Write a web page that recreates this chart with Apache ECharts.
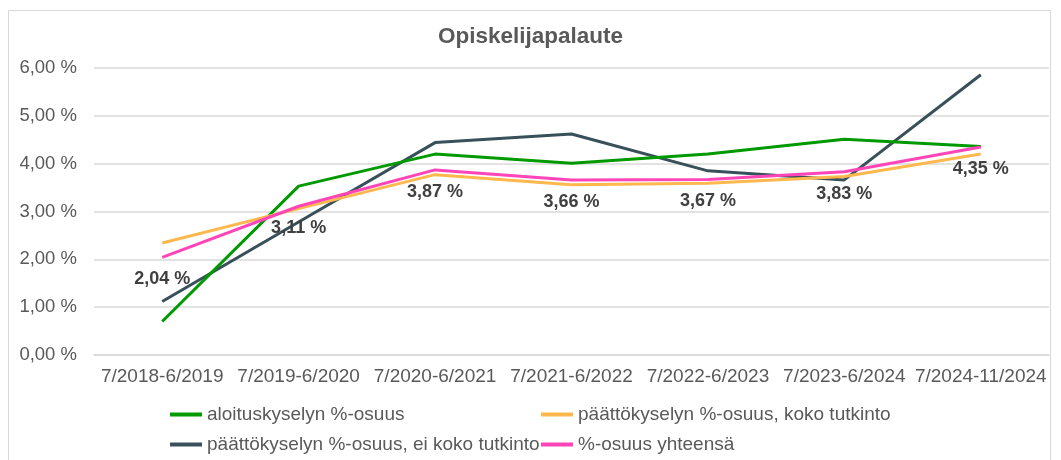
<!DOCTYPE html>
<html>
<head>
<meta charset="utf-8">
<script src="https://cdn.jsdelivr.net/npm/echarts@6/dist/echarts.min.js"></script>
<style>
	html,body{margin:0;padding:0;background:#fff;}
	#chart{width:1061px;height:460px;}
</style>
</head>
<body>
<div id="chart"></div>
<script>
var categories = ['7/2018-6/2019','7/2019-6/2020','7/2020-6/2021','7/2021-6/2022','7/2022-6/2023','7/2023-6/2024','7/2024-11/2024'];
var aloitus = [0.70, 3.53, 4.20, 4.01, 4.20, 4.51, 4.36];
var paattoKoko = [2.34, 3.06, 3.77, 3.56, 3.59, 3.73, 4.20];
var paattoEiKoko = [1.12, 2.78, 4.44, 4.62, 3.85, 3.66, 5.86];
var yhteensa = [2.04, 3.11, 3.87, 3.66, 3.67, 3.83, 4.35];
var yTicks = [0, 1, 2, 3, 4, 5, 6];

var names = ['aloituskyselyn %-osuus', 'päättökyselyn %-osuus, koko tutkinto', 'päättökyselyn %-osuus, ei koko tutkinto', '%-osuus yhteensä'];
var colors = ['#009a00', '#ffb84d', '#37505a', '#ff45b8'];
var font = '"Liberation Sans", Arial, sans-serif';

function pct(v){
	return v.toFixed(2).replace('.', ',') + ' %';
}

function lineSeries(i, data){
	return {
		name: names[i],
		type: 'line',
		data: data,
		symbol: 'circle',
		symbolSize: 0,
		showSymbol: true,
		z: i == 2 ? 1 : 2 + i,
		lineStyle: {color: colors[i], width: 3},
		itemStyle: {color: colors[i]}
	};
}

// yksi legenda per rivi/sarake, jotta sijainnit osuvat
function legendItem(i, left, top){
	return {
		data: [{name: names[i], icon: 'rect'}],
		left: left,
		top: top,
		padding: 0,
		itemWidth: 32,
		itemHeight: 4,
		selectedMode: false,
		textStyle: {color: '#595959', fontSize: 19, fontFamily: font}
	};
}

var chart = echarts.init(document.getElementById('chart'));

var sYht = lineSeries(3, yhteensa);
sYht.label = {
	show: true,
	position: 'bottom',
	distance: 13,
	color: '#404040',
	fontSize: 18,
	fontWeight: 'bold',
	fontFamily: font,
	formatter: function(p){ return pct(p.value); }
};

var option = {
	animation: false,
	backgroundColor: '#fff',
	title: {
		text: 'Opiskelijapalaute',
		left: 'center',
		top: 20,
		textStyle: {color: '#595959', fontSize: 22.5, fontWeight: 'bold', fontFamily: font}
	},
	graphic: [{
		type: 'rect',
		shape: {x: 8.5, y: 10.5, width: 1042, height: 470},
		style: {fill: 'none', stroke: '#d9d9d9', lineWidth: 1},
		silent: true
	}],
	legend: [
		legendItem(0, 170, 405),
		legendItem(1, 541, 405),
		legendItem(2, 170, 435),
		legendItem(3, 541, 435)
	],
	grid: {left: 94, right: 12, top: 68, bottom: 105, containLabel: false},
	xAxis: {
		type: 'category',
		data: categories,
		boundaryGap: true,
		axisLine: {show: true, lineStyle: {color: '#d9d9d9', width: 1.5}},
		axisTick: {show: false},
		axisLabel: {interval: 0, color: '#595959', fontSize: 19, fontFamily: font, margin: 12}
	},
	yAxis: {
		type: 'value',
		min: yTicks[0],
		max: yTicks[yTicks.length - 1],
		interval: 1,
		axisLine: {show: false},
		axisTick: {show: false},
		splitLine: {lineStyle: {color: '#d9d9d9', width: 1.5}},
		axisLabel: {color: '#595959', fontSize: 18.5, fontFamily: font, margin: 17, formatter: pct}
	},
	series: [
		lineSeries(0, aloitus),
		lineSeries(1, paattoKoko),
		lineSeries(2, paattoEiKoko),
		sYht
	]
};
chart.setOption(option);
</script>
</body>
</html>
